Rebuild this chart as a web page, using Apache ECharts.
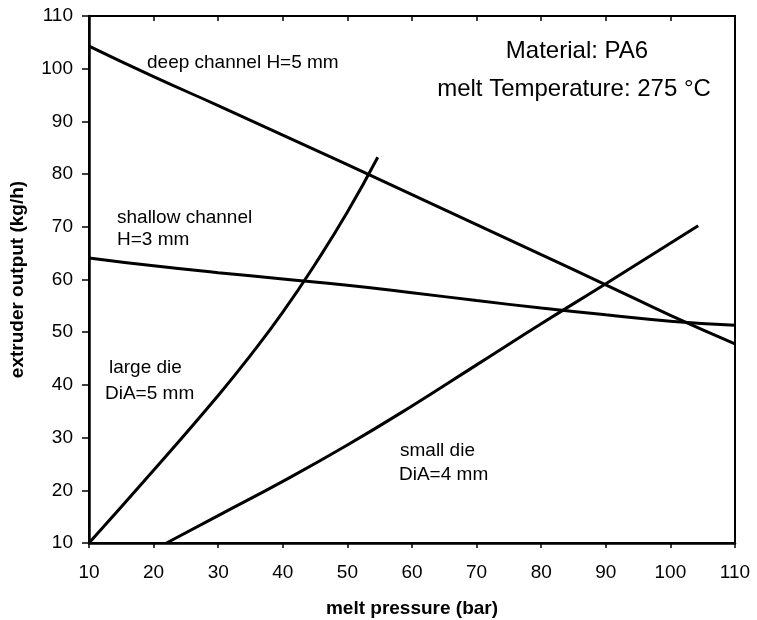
<!DOCTYPE html>
<html>
<head>
<meta charset="utf-8">
<script src="https://cdn.jsdelivr.net/npm/echarts@6/dist/echarts.min.js"></script>
<style>html,body{margin:0;padding:0;background:#fff;}#c{width:757px;height:620px;}</style>
</head>
<body>
<div id="c"></div>
<script>
// ---- data ----
const pressureDeep   = [10, 20, 30, 40, 50, 60, 70, 80, 90, 100, 110];
const outputDeep     = [104.3, 98.5, 93.0, 87.4, 81.8, 76.1, 70.4, 64.7, 59.0, 53.2, 47.8];
const pressureShallow= [10, 20, 30, 40, 50, 60, 70, 80, 90, 100, 110];
const outputShallow  = [64.1, 62.6, 61.3, 60.1, 58.9, 57.5, 56.0, 54.6, 53.3, 52.1, 51.3];
const pressureLarge  = [10, 20, 30, 35, 40, 45, 50, 54.7];
const outputLarge    = [10, 23.8, 38.0, 45.6, 53.8, 62.9, 72.8, 83.2];
const pressureSmall  = [22, 30, 40, 50, 60, 70, 80, 90, 104.3];
const outputSmall    = [10, 15.2, 21.7, 28.6, 36.0, 43.8, 51.6, 59.2, 70.2];
const xTicks = [10, 20, 30, 40, 50, 60, 70, 80, 90, 100, 110];
const yTicks = [10, 20, 30, 40, 50, 60, 70, 80, 90, 100, 110];
const xTitle = 'melt pressure (bar)';
const yTitle = 'extruder output (kg/h)';

const FONT = '"Liberation Sans", Arial, sans-serif';
const zip = (xs, ys) => xs.map((x, i) => [x, ys[i]]);

function lineSeries(name, xs, ys) {
  return {
    name, type: 'line', data: zip(xs, ys), smooth: 0.5, symbol: 'none',
    lineStyle: { color: '#000', width: 3 }, silent: true, animation: false
  };
}

const chart = echarts.init(document.getElementById('c'), null, { renderer: 'canvas' });
const axisBase = {
  type: 'value', min: xTicks[0], max: xTicks[xTicks.length - 1], interval: 10,
  splitLine: { show: false }
};
chart.setOption({
  animation: false,
  backgroundColor: '#fff',
  grid: { left: 89, right: 22, top: 16, bottom: 77, show: true, borderColor: '#000', borderWidth: 2,
          containLabel: false, outerBoundsMode: 'none' },
  xAxis: [
    Object.assign({}, axisBase, {
      name: xTitle, nameLocation: 'middle', nameGap: 56,
      nameTextStyle: { fontFamily: FONT, fontWeight: 'bold', fontSize: 19, color: '#000' },
      axisLine: { lineStyle: { color: '#000', width: 2.5 } },
      axisTick: { inside: false, length: 5, lineStyle: { color: '#000', width: 1.5 } },
      axisLabel: { fontFamily: FONT, fontSize: 19, color: '#000', margin: 20 }
    }),
    Object.assign({}, axisBase, {
      axisLine: { show: false },
      axisTick: { inside: true, length: 5, lineStyle: { color: '#000', width: 1.5 } },
      axisLabel: { show: false }
    })
  ],
  yAxis: {
    type: 'value', min: yTicks[0], max: yTicks[yTicks.length - 1], interval: 10,
    name: yTitle, nameLocation: 'middle', nameGap: 62, nameRotate: 90,
    nameTextStyle: { fontFamily: FONT, fontWeight: 'bold', fontSize: 19, color: '#000' },
    splitLine: { show: false },
    axisLine: { show: true, lineStyle: { color: '#000', width: 2.5 } },
    axisTick: { show: true, length: 7, lineStyle: { color: '#000', width: 1.5 } },
    axisLabel: { fontFamily: FONT, fontSize: 19, color: '#000', margin: 16 }
  },
  series: [
    lineSeries('deep channel H=5 mm', pressureDeep, outputDeep),
    lineSeries('shallow channel H=3 mm', pressureShallow, outputShallow),
    lineSeries('large die DiA=5 mm', pressureLarge, outputLarge),
    lineSeries('small die DiA=4 mm', pressureSmall, outputSmall)
  ],
  graphic: [
    { type: 'text', left: 147, top: 53, style: { text: 'deep channel H=5 mm', font: '19px ' + FONT, fill: '#000' } },
    { type: 'text', left: 117, top: 208, style: { text: 'shallow channel', font: '19px ' + FONT, fill: '#000' } },
    { type: 'text', left: 117, top: 230, style: { text: 'H=3 mm', font: '19px ' + FONT, fill: '#000' } },
    { type: 'text', left: 109, top: 358, style: { text: 'large die', font: '19px ' + FONT, fill: '#000' } },
    { type: 'text', left: 105, top: 384, style: { text: 'DiA=5 mm', font: '19px ' + FONT, fill: '#000' } },
    { type: 'text', left: 400, top: 441, style: { text: 'small die', font: '19px ' + FONT, fill: '#000' } },
    { type: 'text', left: 399, top: 465, style: { text: 'DiA=4 mm', font: '19px ' + FONT, fill: '#000' } },
    { type: 'text', x: 577, y: 51, style: { text: 'Material: PA6', font: '24px ' + FONT, fill: '#000', textAlign: 'center', textVerticalAlign: 'middle' } },
    { type: 'text', x: 574, y: 89, style: { text: 'melt Temperature: 275 °C', font: '24px ' + FONT, fill: '#000', textAlign: 'center', textVerticalAlign: 'middle' } }
  ]
});
</script>
</body>
</html>
